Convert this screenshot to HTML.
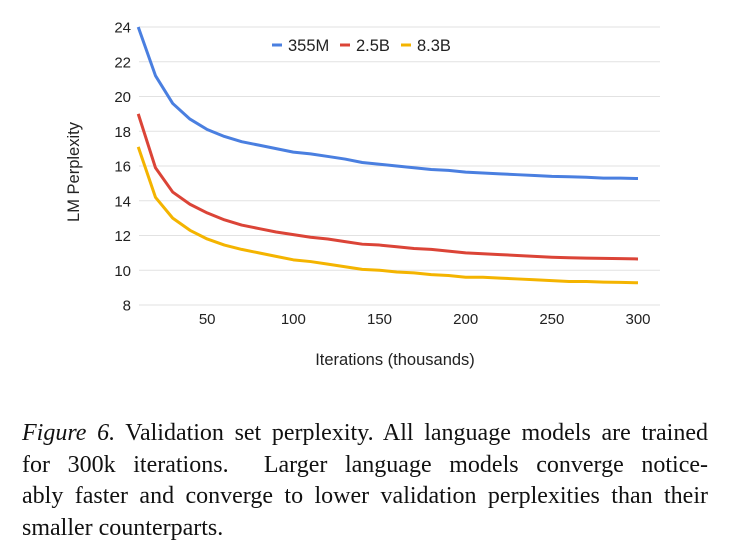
<!DOCTYPE html>
<html><head><meta charset="utf-8"><style>
body{margin:0;background:#fff;width:730px;height:549px;overflow:hidden;font-family:"Liberation Sans",sans-serif}
#cap{position:absolute;left:22px;top:418px;width:686px;font-family:"Liberation Serif",serif;font-size:24px;line-height:31.5px;color:#111}
#cap div{text-align:justify;text-align-last:justify;white-space:nowrap}
#cap div.last{text-align-last:left}
</style></head><body>
<svg id="chart" width="730" height="400" style="position:absolute;left:0;top:0"></svg>
<div id="cap">
<div><i>Figure 6.</i> Validation set perplexity. All language models are trained</div>
<div>for 300k iterations. &nbsp;Larger language models converge notice-</div>
<div>ably faster and converge to lower validation perplexities than their</div>
<div class="last">smaller counterparts.</div>
</div>
<script>
const iters=[10,20,30,40,50,60,70,80,90,100,110,120,130,140,150,160,170,180,190,200,210,220,230,240,250,260,270,280,290,300];
const s355=[24,21.2,19.6,18.7,18.1,17.7,17.4,17.2,17.0,16.8,16.7,16.55,16.4,16.2,16.1,16.0,15.9,15.8,15.75,15.65,15.6,15.55,15.5,15.45,15.4,15.38,15.35,15.3,15.3,15.28];
const s25=[19.0,15.9,14.5,13.8,13.3,12.9,12.6,12.4,12.2,12.05,11.9,11.8,11.65,11.5,11.45,11.35,11.25,11.2,11.1,11.0,10.95,10.9,10.85,10.8,10.75,10.72,10.7,10.68,10.67,10.65];
const s83=[17.1,14.2,13.0,12.3,11.8,11.45,11.2,11.0,10.8,10.6,10.5,10.35,10.2,10.05,10.0,9.9,9.85,9.75,9.7,9.6,9.6,9.55,9.5,9.45,9.4,9.35,9.35,9.32,9.3,9.28];
const yTicks=[8,10,12,14,16,18,20,22,24];
const xTicks=[50,100,150,200,250,300];
const NS="http://www.w3.org/2000/svg";
const svg=document.getElementById('chart');
const X=v=>121+(v)*(638-121)/300;
const Y=v=>305-(v-8)*(305-27)/16;
function mk(t,a,txt){const e=document.createElementNS(NS,t);for(const k in a)e.setAttribute(k,a[k]);if(txt!=null)e.textContent=txt;svg.appendChild(e);return e;}
yTicks.forEach(t=>{
 const g=mk('line',{x1:139,x2:660,y1:Y(t),y2:Y(t),stroke:'#e2e2e2','stroke-width':1});
 
 
 const l=mk('text',{x:131,y:Y(t)+5.5,'text-anchor':'end','font-size':15,fill:'#222'},t);
 
 
});
xTicks.forEach(t=>{
 const l=mk('text',{x:X(t),y:324,'text-anchor':'middle','font-size':15,fill:'#222'},t);
 
 
});
const xt=mk('text',{x:395,y:365,'text-anchor':'middle','font-size':16.5,fill:'#222'},'Iterations (thousands)');


const yt=mk('text',{x:79,y:172,'text-anchor':'middle','font-size':16.5,fill:'#222',transform:'rotate(-90 79 172)'},'LM Perplexity');


const series=[[s355,'#4a7fe0','355M','line-355m'],[s25,'#db4437','2.5B','line-2-5b'],[s83,'#f4b400','8.3B','line-8-3b']];
series.forEach(([d,c,n,name])=>{
 const p=mk('polyline',{points:iters.map((v,i)=>X(v)+','+Y(d[i])).join(' '),fill:'none',stroke:c,'stroke-width':3,'stroke-linejoin':'round'});
 
 
});
const lx=[272,340,401];
series.forEach(([d,c,n],i)=>{
 const m=mk('line',{x1:lx[i],x2:lx[i]+10,y1:45,y2:45,stroke:c,'stroke-width':3});
 
 
 const t=mk('text',{x:lx[i]+16,y:51,'font-size':16.5,fill:'#222'},n);
 
 
});
</script>
</body></html>
